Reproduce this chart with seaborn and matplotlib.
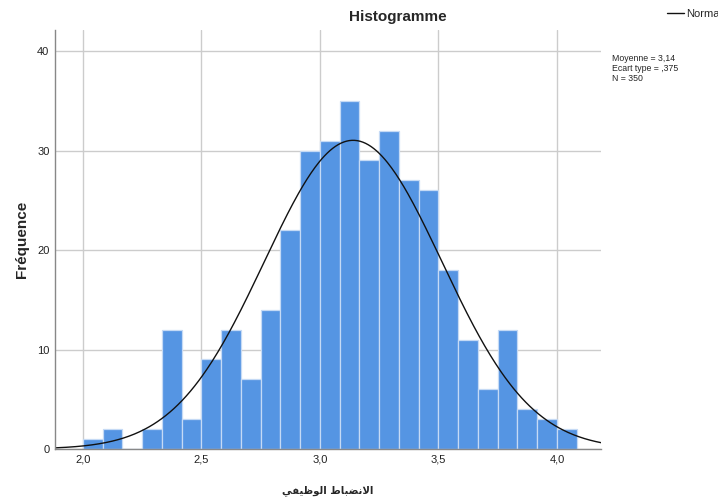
import numpy as np
import pandas as pd
import seaborn as sns
import matplotlib.pyplot as plt
from matplotlib import font_manager

# Histogramme - الانضباط الوظيفي (N = 350)

# effectifs par classe (largeur 1/12, de 2,0 a 4,083)
counts = [1, 2, 0, 2, 12, 3, 9, 12, 7, 14, 22, 30, 31, 35, 29, 32, 27, 26,
          18, 11, 6, 12, 4, 3, 2]
bin_start = 2.0
bin_width = 1 / 12

moyenne = 3.14
ecart_type = 0.375
n_total = 350

x_ticks = [2.0, 2.5, 3.0, 3.5, 4.0]
x_tick_labels = ["2,0", "2,5", "3,0", "3,5", "4,0"]
y_ticks = [0, 10, 20, 30, 40]

# "الانضباط الوظيفي" en formes contextuelles, ordre visuel (matplotlib ne fait pas le shaping)
titre_x = ("\ufef2\ufed4\ufef4\ufec7\ufeee\ufedf\ufe8d" + " "
           + "\ufec1\ufe8e\ufe92\ufec0\ufee7\ufefb\ufe8d")

edges = bin_start + np.arange(len(counts) + 1) * bin_width
df = pd.DataFrame({"score": (edges[:-1] + edges[1:]) / 2, "n": counts})

sns.set_theme(style="white")
plt.rcParams["font.family"] = ["Liberation Sans", "DejaVu Sans"]

installed = {f.name for f in font_manager.fontManager.ttflist}
if "Liberation Sans Narrow" in installed:
    stats_font, stats_size = ["Liberation Sans Narrow"], 7.5
else:
    stats_font, stats_size = ["Liberation Sans"], 6.3

fig = plt.figure(figsize=(7.18, 5.03), dpi=100)
ax = fig.add_axes([0.0766, 0.1074, 0.7604, 0.8326])

sns.histplot(data=df, x="score", weights="n", bins=list(edges), ax=ax,
             color="#5595e3", alpha=1, edgecolor="#c5daf5", linewidth=0.9)

# courbe normale
xs = np.linspace(1.882, 4.186, 400)
ys = n_total * bin_width * np.exp(-0.5 * ((xs - moyenne) / ecart_type) ** 2) / (ecart_type * np.sqrt(2 * np.pi))
sns.lineplot(x=xs, y=ys, ax=ax, color="#111111", linewidth=1, label="Normal", legend=False)

ax.set_xlim(1.882, 4.186)
ax.set_ylim(0, 42.1)
ax.set_axisbelow(True)
ax.grid(True, color="#cccccc", linewidth=1)
ax.set_xticks(x_ticks)
ax.set_xticklabels(x_tick_labels)
ax.set_yticks(y_ticks)
ax.tick_params(length=0, labelsize=8, colors="#222222", pad=4)

for s in ["top", "right"]:
    ax.spines[s].set_visible(False)
for s in ["left", "bottom"]:
    ax.spines[s].set_color("#888888")
    ax.spines[s].set_linewidth(1)

ax.set_xlabel("")
ax.set_ylabel("")

fig.text(398 / 718, 1 - 17 / 503, "Histogramme", ha="center", va="center",
         fontsize=11, fontweight="bold")
fig.text(22 / 718, 1 - 239 / 503, "Fréquence", ha="center", va="center",
         rotation=90, fontsize=11, fontweight="bold")
fig.text(328 / 718, 1 - 491 / 503, titre_x, ha="center", va="center",
         fontsize=7.3, fontweight="bold", family=["DejaVu Sans"])

fig.text(612 / 718, 1 - 54 / 503,
         "Moyenne = 3,14\nEcart type = ,375\nN = 350",
         ha="left", va="top", fontsize=stats_size, linespacing=1.12, family=stats_font)

handles, labels = ax.get_legend_handles_labels()
fig.legend(handles, labels, loc="upper left", bbox_to_anchor=(667 / 718, 1 - 9 / 503),
           frameon=False, fontsize=8, handlelength=1.5, handletextpad=0.2,
           borderpad=0, borderaxespad=0)

fig.savefig("out.png", dpi=100)
